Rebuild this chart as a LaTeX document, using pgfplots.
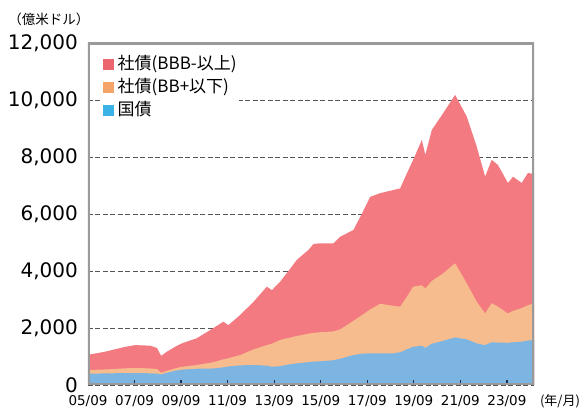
\documentclass[border=0pt]{standalone}
\usepackage{pgfplots}
\pgfplotsset{compat=1.18}
\usepackage{pgfplotstable}
\usepackage{fontspec}
\setmainfont{DejaVu Sans}
\newfontfamily\jp{Noto Sans CJK JP}

\definecolor{cred}{HTML}{F27A80}
\definecolor{corange}{HTML}{F7BC8E}
\definecolor{cblue}{HTML}{7DB5E2}
\definecolor{lred}{HTML}{EC6670}
\definecolor{lorange}{HTML}{F5A46A}
\definecolor{lblue}{HTML}{3BB3E6}
\definecolor{framec}{HTML}{9A9A9A}
\definecolor{tickc}{HTML}{1F2D50}
\definecolor{gridc}{HTML}{555555}

% cumulative tops: B = 国債, O = 国債+社債(BB+以下), R = total
\pgfplotstableread{
t       B     O     R
2005.67 400   525   1060
2006.41 405   545   1170
2007.27 420   585   1340
2007.70 420   600   1400
2008.34 410   580   1380
2008.63 400   560   1300
2008.81 370   430   1020
2009.06 430   500   1170
2009.41 500   580   1340
2009.70 540   640   1460
2010.34 570   700   1640
2011.06 580   800   2000
2011.48 620   900   2220
2011.70 650   940   2100
2012.21 690   1050  2460
2012.78 700   1250  2920
2013.35 680   1400  3450
2013.57 640   1450  3330
2013.92 660   1580  3620
2014.28 720   1650  4000
2014.64 760   1720  4390
2015.14 800   1800  4740
2015.36 820   1830  4950
2015.64 830   1850  4970
2016.21 870   1880  4970
2016.50 920   1950  5200
2017.07 1050  2250  5440
2017.43 1100  2450  6000
2017.79 1110  2650  6600
2018.22 1110  2850  6730
2018.78 1110  2780  6840
2019.08 1150  2750  6900
2019.37 1250  3100  7430
2019.64 1340  3450  7900
2020.01 1380  3500  8600
2020.16 1300  3390  8070
2020.44 1450  3650  8950
2020.93 1550  3920  9540
2021.44 1670  4270  10180
2021.94 1600  3570  9420
2022.37 1460  2920  8360
2022.73 1400  2510  7310
2023.01 1500  2870  7900
2023.28 1490  2750  7720
2023.71 1480  2510  7090
2023.93 1500  2600  7310
2024.30 1520  2700  7090
2024.57 1560  2800  7440
2024.83 1580  2870  7400
}\datatable

\pgfplotstableread{
t        h
2007.667 190
2009.667 190
2011.667 190
2013.667 190
2015.667 190
2017.667 190
2019.667 190
2021.667 190
2023.667 190
}\tickstable

\begin{document}
\begin{tikzpicture}
\begin{axis}[
  scale only axis,
  width=446pt, height=342pt,
  xmin=2005.667, xmax=2024.83,
  ymin=0, ymax=12000,
  xtick={2005.667,2007.667,2009.667,2011.667,2013.667,2015.667,2017.667,2019.667,2021.667,2023.667},
  xticklabels={05/09,07/09,09/09,11/09,13/09,15/09,17/09,19/09,21/09,23/09},
  ytick={0,2000,4000,6000,8000,10000,12000},
  scaled y ticks=false,
  yticklabel style={/pgf/number format/1000 sep={,}, /pgf/number format/fixed, /pgf/number format/assume math mode=true,
    font=\fontsize{20}{20}\selectfont, anchor=east, inner sep=0pt, xshift=-10pt},
  xticklabel style={font=\fontsize{13.5}{14}\selectfont, anchor=north, inner sep=0pt, yshift=-10pt},
  major tick length=0pt,
  axis line style={draw=none},
  ymajorgrids,
  grid style={draw=gridc, line width=0.8pt, dash pattern=on 5pt off 2.5pt},
  legend image code/.code={\fill[#1] (0pt,-5.5pt) rectangle (11pt,5.5pt);},
  legend style={at={(axis description cs:0.028,0.965)}, anchor=north west,
    draw=none, fill=white, inner sep=2pt, row sep=8pt, column sep=4pt,
    font=\jp\fontsize{17}{17}\selectfont,
    nodes={inner sep=0pt, text height=12pt, text depth=3pt}},
  legend cell align=left,
]
\addplot[fill=cred, draw=none, forget plot] table[x=t, y=R] {\datatable} \closedcycle;
\addplot[fill=corange, draw=none, forget plot] table[x=t, y=O] {\datatable} \closedcycle;
\addplot[fill=cblue, draw=none, forget plot] table[x=t, y=B] {\datatable} \closedcycle;
\addplot[ycomb, draw=tickc, line width=1.2pt, no marks, forget plot] table[x=t, y=h] {\tickstable};
\draw[framec, line width=3.5pt] (rel axis cs:0,0) rectangle (rel axis cs:1,1);
\addlegendimage{fill=lred, draw=none}
\addlegendentry{社債(BBB-以上)}
\addlegendimage{fill=lorange, draw=none}
\addlegendentry{社債(BB+以下)}
\addlegendimage{fill=lblue, draw=none}
\addlegendentry{国債}
\end{axis}
\node[font=\jp\fontsize{13.5}{14}\selectfont] at (-39pt,366pt) {（億米ドル）};
\node[font=\jp\fontsize{13}{14}\selectfont] at (472pt,-16pt) {(年/月)};
\pgfresetboundingbox
\path[use as bounding box] (-88pt,-32pt) rectangle (491pt,385pt);
\end{tikzpicture}
\end{document}
